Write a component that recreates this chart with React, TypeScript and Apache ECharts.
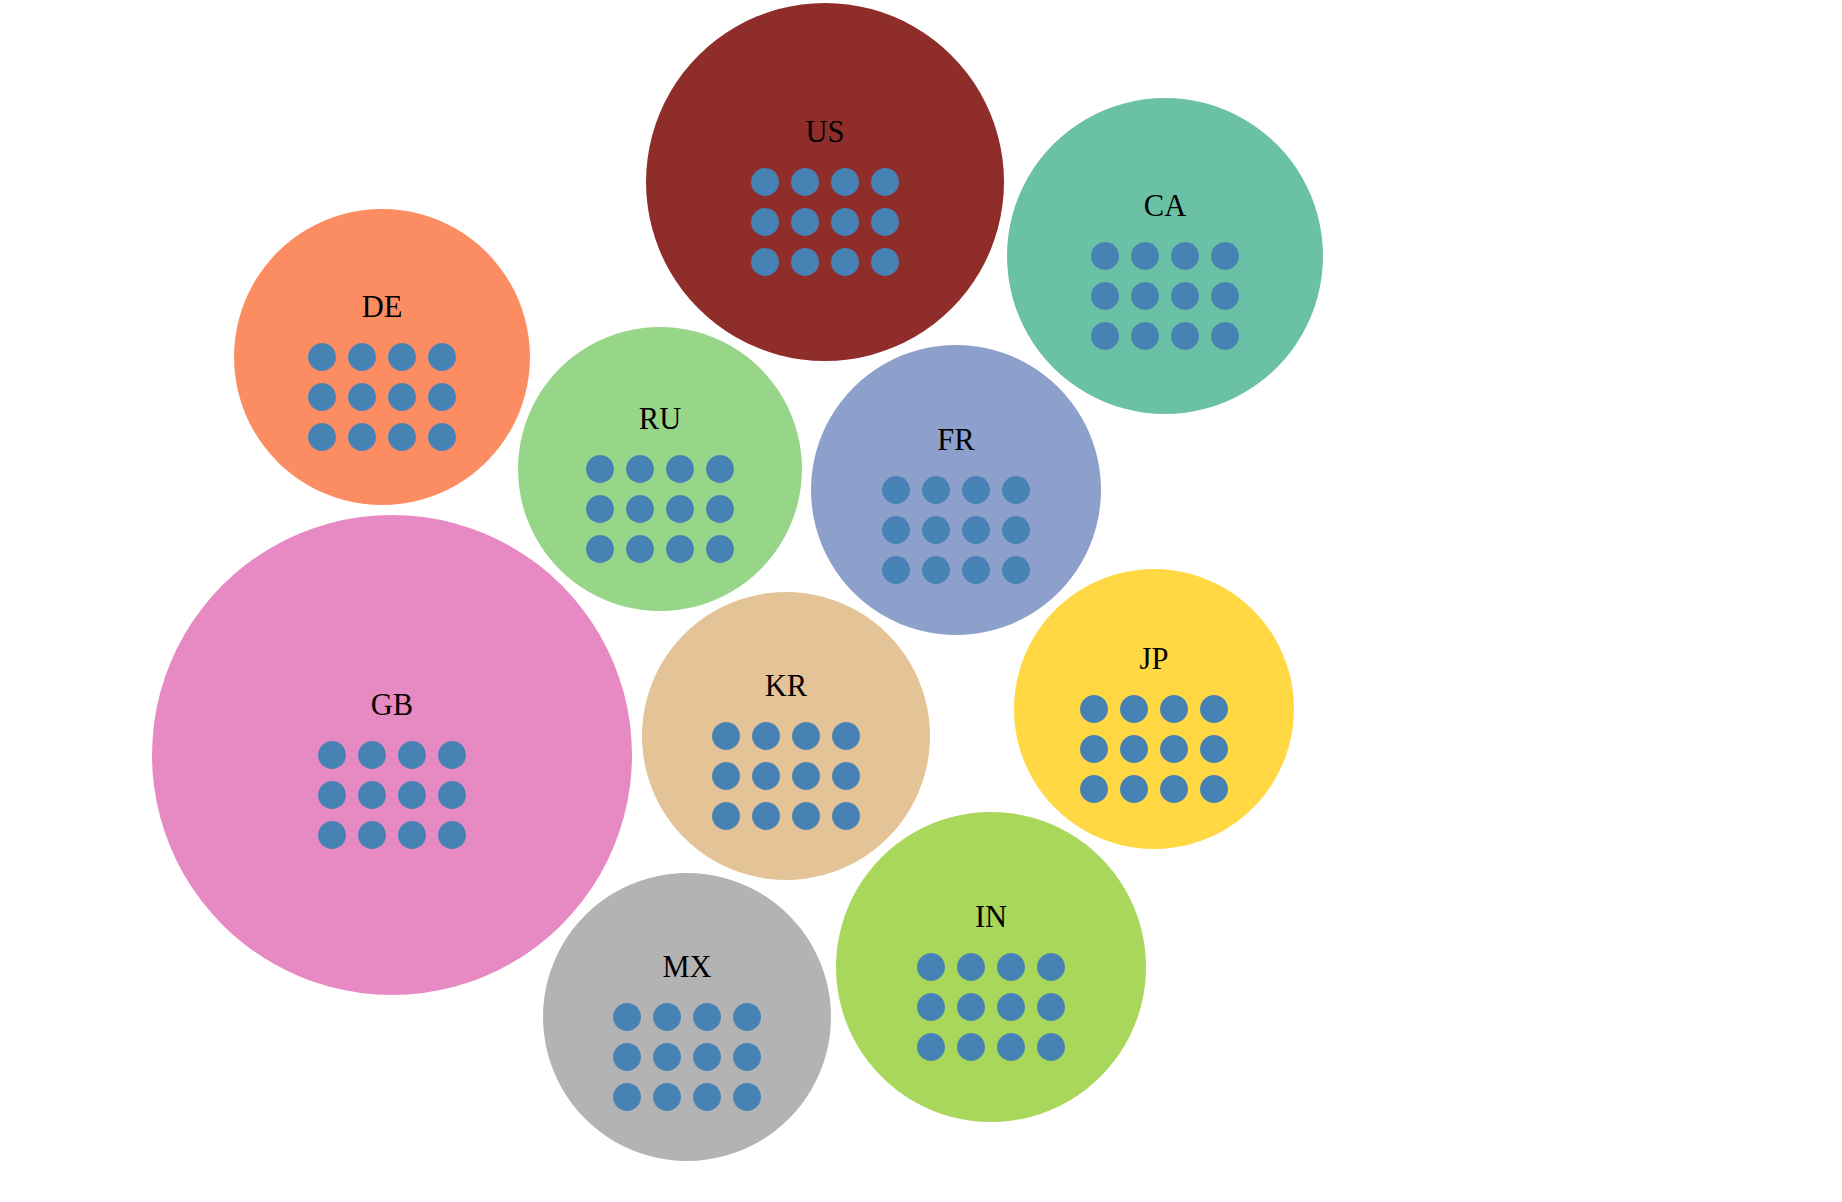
import React, { useEffect, useRef } from "react";
import * as echarts from "echarts";

// Country codes shown in the bubbles
const countries = ["US", "CA", "DE", "RU", "FR", "GB", "KR", "JP", "MX", "IN"];
// Bubble layout values (layout units)
const bubbleX = [825, 1165, 382, 660, 956, 392, 786, 1154, 687, 991];
const bubbleY = [182, 256, 357, 469, 490, 755, 736, 709, 1017, 967];
const bubbleR = [179, 158, 148, 142, 145, 240, 144, 140, 144, 155];
// Number of dots per bubble
const dotCounts = [12, 12, 12, 12, 12, 12, 12, 12, 12, 12];
const bubbleColors = [
  "#8f2d2a",
  "#6bc1a6",
  "#fc8d62",
  "#97d688",
  "#8da0cb",
  "#e78ac3",
  "#e4c496",
  "#ffd843",
  "#b3b3b3",
  "#a8d75c",
];

const DOT_COLOR = "#4682b4";
const DOT_COLS = 4;
const DOT_GAP = 40;
const DOT_R = 14;

export default function App() {
  const ref = useRef<HTMLDivElement>(null);

  useEffect(() => {
    document.body.style.margin = "0";
    if (!ref.current) return;
    const chart = echarts.init(ref.current, null, { renderer: "svg" });

    const data = countries.map((c, i) => ({
      name: c,
      value: [bubbleX[i], bubbleY[i], bubbleR[i], dotCounts[i], i],
    }));

    const renderItem = (params: any, api: any) => {
      const cx = api.value(0);
      const cy = api.value(1);
      const r = api.value(2);
      const n = api.value(3);
      const idx = api.value(4);
      const [px, py] = api.coord([cx, cy]);
      const unit = api.size([1, 0])[0];
      const pr = r * unit;
      const children: any[] = [
        {
          type: "circle",
          shape: { cx: px, cy: py, r: pr },
          style: { fill: bubbleColors[idx] },
        },
        {
          type: "text",
          style: {
            text: countries[idx],
            x: px,
            y: py - 50 * unit,
            fill: "#000",
            fontSize: 30.5 * unit,
            fontFamily: '"Liberation Serif", "Times New Roman", serif',
            align: "center",
            verticalAlign: "middle",
          },
        },
      ];
      for (let k = 0; k < n; k++) {
        const col = k % DOT_COLS;
        const row = Math.floor(k / DOT_COLS);
        const ox = (col - (DOT_COLS - 1) / 2) * DOT_GAP;
        const oy = row * DOT_GAP;
        children.push({
          type: "circle",
          shape: { cx: px + ox * unit, cy: py + oy * unit, r: DOT_R * unit },
          style: { fill: DOT_COLOR },
        });
      }
      return { type: "group", children };
    };

    chart.setOption({
      animation: false,
      backgroundColor: "#fff",
      grid: { left: 0, right: 0, top: 0, bottom: 0 },
      xAxis: { type: "value", min: 0, max: 1842, show: false },
      yAxis: { type: "value", min: 0, max: 1202, inverse: true, show: false },
      series: [
        {
          type: "custom",
          renderItem,
          data,
          silent: true,
        },
      ],
    });

    const onResize = () => chart.resize();
    window.addEventListener("resize", onResize);
    return () => {
      window.removeEventListener("resize", onResize);
      chart.dispose();
    };
  }, []);

  return (
    <div
      ref={ref}
      style={{ position: "fixed", left: 0, top: 0, width: "100vw", height: "100vh" }}
    />
  );
}
